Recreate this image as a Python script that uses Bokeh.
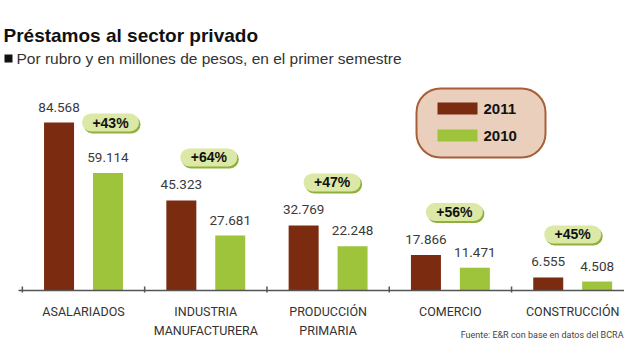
import numpy as np
from bokeh.plotting import figure
from bokeh.models import Range1d, Quad
from bokeh.core.properties import value
from bokeh.embed import file_html
from bokeh.resources import INLINE

# ---- data ----
categories = ["ASALARIADOS", "INDUSTRIA\nMANUFACTURERA", "PRODUCCIÓN\nPRIMARIA", "COMERCIO", "CONSTRUCCIÓN"]
v2011 = [84568, 45323, 32769, 17866, 6555]
v2010 = [59114, 27681, 22248, 11471, 4508]
years = ["2011", "2010"]
title = "Préstamos al sector privado"
subtitle = "Por rubro y en millones de pesos, en el primer semestre"
source_note = "Fuente: E&R con base en datos del BCRA"

# ---- layout helpers (reference pixel -> data) ----
X0, DX, Y0 = 83.0, 122.3, 290.0
K = 168.0 / 84568.0
def X(px):
    return (px - X0) / DX
def Y(py):
    return (Y0 - py) / K

W, H = 624, 344
BROWN = "#7a2b10"
GREEN = "#9dc43b"
COND = value("Roboto")
SANS = value("Liberation Sans")

idx = np.arange(len(categories), dtype=float)

p = figure(width=W, height=H, output_backend="svg", toolbar_location=None,
           x_range=Range1d(X(0), X(W)), y_range=Range1d(Y(H), Y(0)),
           min_border=0, min_border_left=0, min_border_right=0,
           min_border_top=0, min_border_bottom=0)
p.axis.visible = False
p.grid.visible = False
p.outline_line_color = None
p.background_fill_color = "white"
p.border_fill_color = "white"

has_radius = "border_radius" in Quad.properties()

# ---- bars ----
bw = 30 / DX
off = 0.2
p.vbar(x=idx - off, top=v2011, width=bw, fill_color=BROWN, line_color=None)
p.vbar(x=idx + off, top=v2010, width=bw, fill_color=GREEN, line_color=None)

# value labels
fmt = lambda v: f"{v:,}".replace(",", ".")
for xs, vals in ((idx - off, v2011), (idx + off, v2010)):
    p.text(x=xs, y=vals, text=[fmt(v) for v in vals], y_offset=-15.5,
           text_align="center", text_baseline="middle", text_font=COND,
           text_font_size="13.5px", text_color="#3a3a3a")

# ---- axis line & ticks ----
p.segment(x0=[X(18)], y0=[0], x1=[X(633)], y1=[0], line_color="#555555", line_width=1.5)
tick_x = np.arange(len(categories) + 1) - 0.5
p.segment(x0=tick_x, y0=Y(292), x1=tick_x, y1=Y(286), line_color="#555555", line_width=1.5)

# category labels
p.text(x=idx, y=Y(303), text=categories, text_align="center", text_baseline="top",
       text_font=COND, text_font_size="12.5px", text_color="#333333",
       text_line_height=1.3)

# ---- growth badges ----
pct = ["+%d%%" % round((a / b - 1) * 100) for a, b in zip(v2011, v2010)]
badge_dx = [27, 3, 4, 4, 0]          # px, layout only
badge_dy = [0, -43, -43, -43, -43]   # px relative to 2011 bar top
bx_px = [X0 + DX * i + dx for i, dx in zip(range(len(categories)), badge_dx)]
by_px = [Y0 - v * K + dy for v, dy in zip(v2011, badge_dy)]
BW, BH = 57, 18

def pill(cx_list, cy_list, w, h, color, line=None):
    if has_radius:
        p.quad(left=[X(c - w / 2) for c in cx_list], right=[X(c + w / 2) for c in cx_list],
               top=[Y(c - h / 2) for c in cy_list], bottom=[Y(c + h / 2) for c in cy_list],
               fill_color=color, line_color=line, border_radius=int(h // 2))
    else:
        p.quad(left=[X(c - w / 2 + h / 2) for c in cx_list], right=[X(c + w / 2 - h / 2) for c in cx_list],
               top=[Y(c - h / 2) for c in cy_list], bottom=[Y(c + h / 2) for c in cy_list],
               fill_color=color, line_color=None)
        for sgn in (-1, 1):
            p.scatter(x=[X(c + sgn * (w / 2 - h / 2)) for c in cx_list], y=[Y(c) for c in cy_list],
                      size=h, marker="circle", fill_color=color, line_color=None)

pill([c + 1.5 for c in bx_px], [c + 2 for c in by_px], BW, BH, "#8fb03c")
pill(bx_px, by_px, BW, BH, "#dbe8a6")
p.text(x=[X(c) for c in bx_px], y=[Y(c) for c in by_px], text=pct, text_align="center",
       text_baseline="middle", text_font=SANS, text_font_style="bold",
       text_font_size="14px", text_color="#111111")

# ---- legend ----
if has_radius:
    p.quad(left=[X(416)], right=[X(545)], top=[Y(88)], bottom=[Y(157)],
           fill_color="#eacfbc", line_color="#a85f38", line_width=2, border_radius=24)
else:
    p.quad(left=[X(416)], right=[X(545)], top=[Y(88)], bottom=[Y(157)],
           fill_color="#eacfbc", line_color="#a85f38", line_width=2)
p.quad(left=[X(437), X(437)], right=[X(477), X(477)], top=[Y(102), Y(129)],
       bottom=[Y(114), Y(141)], fill_color=[BROWN, GREEN], line_color=None)
p.text(x=[X(483), X(483)], y=[Y(108.5), Y(135.5)], text=years, text_align="left",
       text_baseline="middle", text_font=SANS, text_font_style="bold",
       text_font_size="15px", text_color="#111111")

# ---- titles & footer ----
p.text(x=[X(3)], y=[Y(34.5)], text=[title], text_align="left", text_baseline="middle",
       text_font=SANS, text_font_style="bold", text_font_size="19px", text_color="#111111")
p.quad(left=[X(4)], right=[X(12)], top=[Y(54)], bottom=[Y(62)], fill_color="#111111", line_color=None)
p.text(x=[X(16)], y=[Y(57.5)], text=[subtitle], text_align="left", text_baseline="middle",
       text_font=SANS, text_font_size="15.5px", text_color="#333333")
p.text(x=[X(623)], y=[Y(334)], text=[source_note], text_align="right", text_baseline="middle",
       text_font=COND, text_font_size="9px", text_color="#444444")

open("out.html", "w").write(file_html(p, INLINE))
